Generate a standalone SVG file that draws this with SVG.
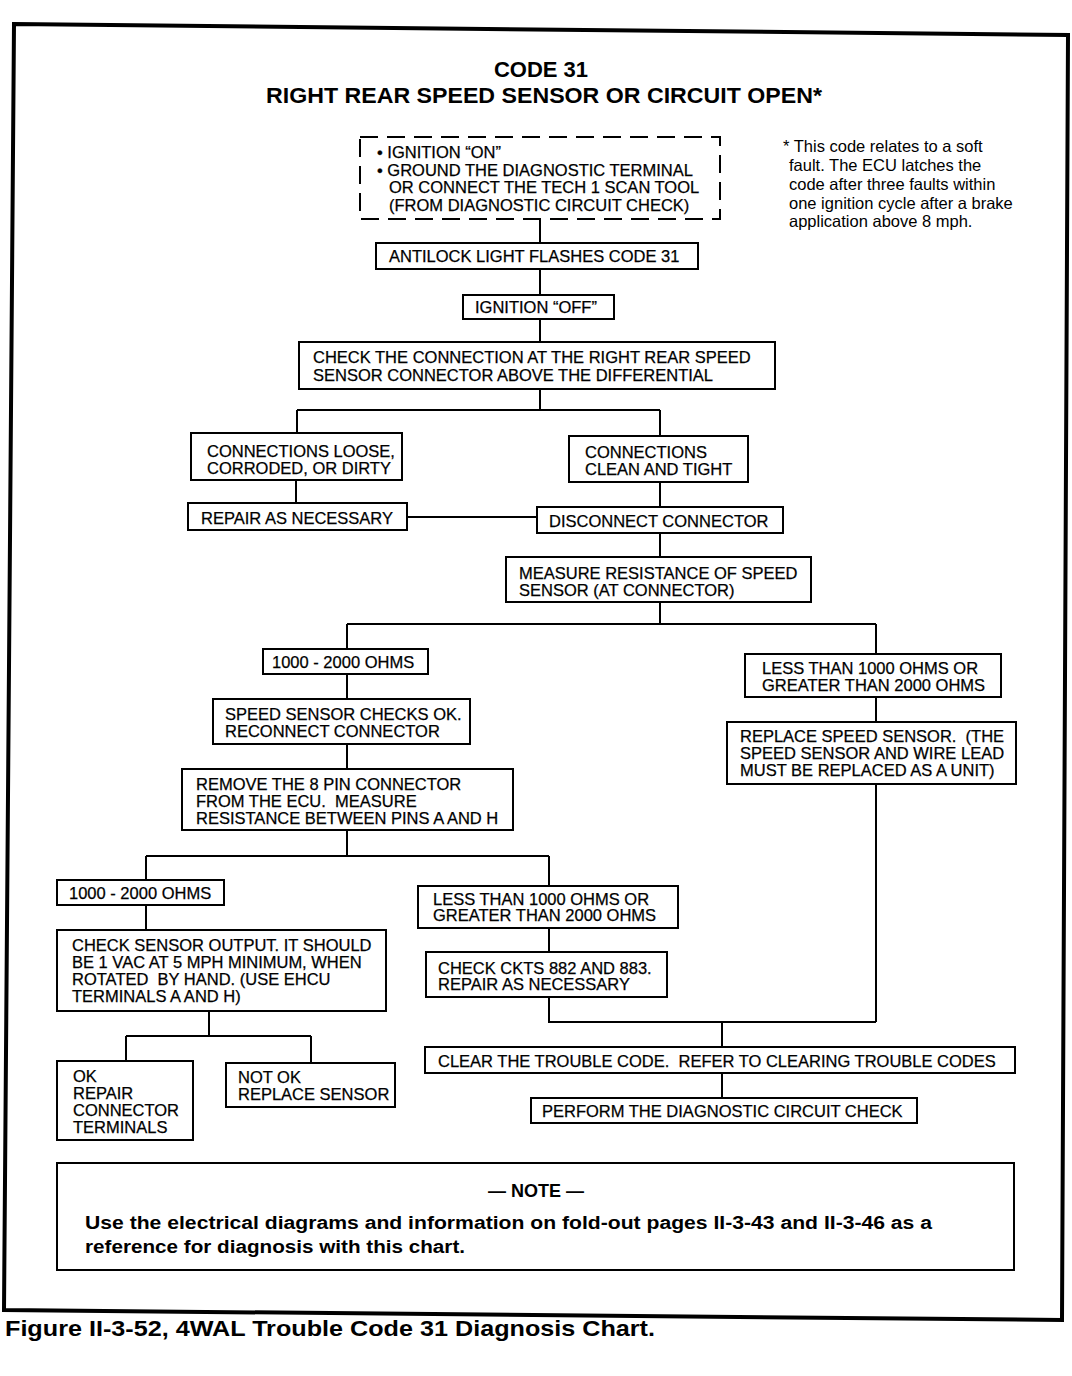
<svg xmlns="http://www.w3.org/2000/svg" width="1072" height="1376" viewBox="0 0 1072 1376">
<style>
  .t { font-family: "Liberation Sans", Arial, sans-serif; font-size: 16.5px; fill: #000; stroke: #000; stroke-width: 0.25; white-space: pre; }
  .s { font-family: "Liberation Sans", Arial, sans-serif; font-size: 16.5px; fill: #000; white-space: pre; }
  .title { font-family: "Liberation Sans", Arial, sans-serif; font-size: 22px; font-weight: bold; fill: #000; }
  .nb { font-family: "Liberation Sans", Arial, sans-serif; font-size: 18px; font-weight: bold; fill: #000; }
  .cap { font-family: "Liberation Sans", Arial, sans-serif; font-size: 22px; font-weight: bold; fill: #000; }
  .box { fill: #fff; stroke: #000; stroke-width: 2; }
  .dash { fill: #fff; stroke: #000; stroke-width: 2; stroke-dasharray: 18 9; }
  .ln { fill: none; stroke: #000; stroke-width: 2; }
</style>
<rect x="0" y="0" width="1072" height="1376" fill="#fff"/>
<polygon points="14,24 1068,35 1062,1320 4,1310" fill="none" stroke="#000" stroke-width="4"/>

<g id="title">
  <text class="title" x="541" y="77" text-anchor="middle">CODE 31</text>
  <text class="title" x="544" y="103" text-anchor="middle" textLength="556" lengthAdjust="spacingAndGlyphs">RIGHT REAR SPEED SENSOR OR CIRCUIT OPEN*</text>
</g>

<g id="connectors">
  <path class="ln" d="M540,219 V243 M540,269 V295 M540,319 V342 M540,389 V410 M297,410 H660 M297,410 V433 M660,410 V436"/>
  <path class="ln" d="M296,480 V503 M407,517 H537 M660,482 V507 M660,533 V557"/>
  <path class="ln" d="M660,602 V624 M347,624 H876 M347,624 V649 M876,624 V654 M347,674 V699 M876,697 V722 M347,744 V769 M876,784 V1022"/>
  <path class="ln" d="M347,830 V856 M146,856 H549 M146,856 V880 M549,856 V886 M146,905 V930 M549,928 V952"/>
  <path class="ln" d="M549,997 V1022 H876 M722,1022 V1047 M722,1073 V1098"/>
  <path class="ln" d="M209,1011 V1036 M126,1036 H311 M126,1036 V1061 M311,1036 V1063"/>
</g>

<g id="start">
  <rect class="dash" x="360" y="137" width="360" height="82"/>
  <text class="t" x="377" y="158">• IGNITION “ON”</text>
  <text class="t" x="377" y="176">• GROUND THE DIAGNOSTIC TERMINAL</text>
  <text class="t" x="389" y="193">OR CONNECT THE TECH 1 SCAN TOOL</text>
  <text class="t" x="389" y="211">(FROM DIAGNOSTIC CIRCUIT CHECK)</text>
</g>

<g id="footnote">
  <text class="s" x="783" y="152">* This code relates to a soft</text>
  <text class="s" x="789" y="171">fault. The ECU latches the</text>
  <text class="s" x="789" y="190">code after three faults within</text>
  <text class="s" x="789" y="209">one ignition cycle after a brake</text>
  <text class="s" x="789" y="227">application above 8 mph.</text>
</g>

<g id="antilock">
  <rect class="box" x="376" y="243" width="322" height="26"/>
  <text class="t" x="389" y="262">ANTILOCK LIGHT FLASHES CODE 31</text>
</g>

<g id="ign-off">
  <rect class="box" x="463" y="295" width="151" height="24"/>
  <text class="t" x="475" y="313">IGNITION “OFF”</text>
</g>

<g id="check-connection">
  <rect class="box" x="299" y="342" width="476" height="47"/>
  <text class="t" x="313" y="363">CHECK THE CONNECTION AT THE RIGHT REAR SPEED</text>
  <text class="t" x="313" y="381">SENSOR CONNECTOR ABOVE THE DIFFERENTIAL</text>
</g>

<g id="loose">
  <rect class="box" x="191" y="433" width="211" height="47"/>
  <text class="t" x="207" y="457">CONNECTIONS LOOSE,</text>
  <text class="t" x="207" y="474">CORRODED, OR DIRTY</text>
</g>

<g id="clean">
  <rect class="box" x="569" y="436" width="179" height="46"/>
  <text class="t" x="585" y="458">CONNECTIONS</text>
  <text class="t" x="585" y="475">CLEAN AND TIGHT</text>
</g>

<g id="repair1">
  <rect class="box" x="188" y="503" width="219" height="27"/>
  <text class="t" x="201" y="524">REPAIR AS NECESSARY</text>
</g>

<g id="disconnect">
  <rect class="box" x="537" y="507" width="246" height="26"/>
  <text class="t" x="549" y="527">DISCONNECT CONNECTOR</text>
</g>

<g id="measure">
  <rect class="box" x="506" y="557" width="305" height="45"/>
  <text class="t" x="519" y="579">MEASURE RESISTANCE OF SPEED</text>
  <text class="t" x="519" y="596">SENSOR (AT CONNECTOR)</text>
</g>

<g id="ohms-ok-1">
  <rect class="box" x="263" y="649" width="165" height="25"/>
  <text class="t" x="272" y="668">1000 - 2000 OHMS</text>
</g>

<g id="ohms-bad-1">
  <rect class="box" x="745" y="654" width="256" height="43"/>
  <text class="t" x="762" y="674">LESS THAN 1000 OHMS OR</text>
  <text class="t" x="762" y="691">GREATER THAN 2000 OHMS</text>
</g>

<g id="sensor-ok">
  <rect class="box" x="213" y="699" width="257" height="45"/>
  <text class="t" x="225" y="720">SPEED SENSOR CHECKS OK.</text>
  <text class="t" x="225" y="737">RECONNECT CONNECTOR</text>
</g>

<g id="replace-sensor">
  <rect class="box" x="727" y="722" width="289" height="62"/>
  <text class="t" x="740" y="742">REPLACE SPEED SENSOR.  (THE</text>
  <text class="t" x="740" y="759">SPEED SENSOR AND WIRE LEAD</text>
  <text class="t" x="740" y="776">MUST BE REPLACED AS A UNIT)</text>
</g>

<g id="remove-8pin">
  <rect class="box" x="182" y="769" width="331" height="61"/>
  <text class="t" x="196" y="790">REMOVE THE 8 PIN CONNECTOR</text>
  <text class="t" x="196" y="807">FROM THE ECU.  MEASURE</text>
  <text class="t" x="196" y="824">RESISTANCE BETWEEN PINS A AND H</text>
</g>

<g id="ohms-ok-2">
  <rect class="box" x="57" y="880" width="167" height="25"/>
  <text class="t" x="69" y="899">1000 - 2000 OHMS</text>
</g>

<g id="ohms-bad-2">
  <rect class="box" x="418" y="886" width="260" height="42"/>
  <text class="t" x="433" y="905">LESS THAN 1000 OHMS OR</text>
  <text class="t" x="433" y="921">GREATER THAN 2000 OHMS</text>
</g>

<g id="check-output">
  <rect class="box" x="57" y="930" width="329" height="81"/>
  <text class="t" x="72" y="951">CHECK SENSOR OUTPUT. IT SHOULD</text>
  <text class="t" x="72" y="968">BE 1 VAC AT 5 MPH MINIMUM, WHEN</text>
  <text class="t" x="72" y="985">ROTATED  BY HAND. (USE EHCU</text>
  <text class="t" x="72" y="1002">TERMINALS A AND H)</text>
</g>

<g id="check-ckts">
  <rect class="box" x="426" y="952" width="241" height="45"/>
  <text class="t" x="438" y="974">CHECK CKTS 882 AND 883.</text>
  <text class="t" x="438" y="990">REPAIR AS NECESSARY</text>
</g>

<g id="clear-code">
  <rect class="box" x="425" y="1047" width="590" height="26"/>
  <text class="t" x="438" y="1067">CLEAR THE TROUBLE CODE.  REFER TO CLEARING TROUBLE CODES</text>
</g>

<g id="perform-check">
  <rect class="box" x="531" y="1098" width="386" height="25"/>
  <text class="t" x="542" y="1117">PERFORM THE DIAGNOSTIC CIRCUIT CHECK</text>
</g>

<g id="ok-repair">
  <rect class="box" x="57" y="1061" width="136" height="79"/>
  <text class="t" x="73" y="1082">OK</text>
  <text class="t" x="73" y="1099">REPAIR</text>
  <text class="t" x="73" y="1116">CONNECTOR</text>
  <text class="t" x="73" y="1133">TERMINALS</text>
</g>

<g id="not-ok">
  <rect class="box" x="226" y="1063" width="169" height="44"/>
  <text class="t" x="238" y="1083">NOT OK</text>
  <text class="t" x="238" y="1100">REPLACE SENSOR</text>
</g>

<g id="note">
  <rect class="box" x="57" y="1163" width="957" height="107"/>
  <text class="nb" x="536" y="1197" text-anchor="middle">— NOTE —</text>
  <text class="nb" x="85" y="1229" textLength="847" lengthAdjust="spacingAndGlyphs">Use the electrical diagrams and information on fold-out pages II-3-43 and II-3-46 as a</text>
  <text class="nb" x="85" y="1253" textLength="380" lengthAdjust="spacingAndGlyphs">reference for diagnosis with this chart.</text>
</g>

<g id="caption">
  <text class="cap" x="5" y="1336" textLength="650" lengthAdjust="spacingAndGlyphs">Figure II-3-52, 4WAL Trouble Code 31 Diagnosis Chart.</text>
</g>
</svg>
